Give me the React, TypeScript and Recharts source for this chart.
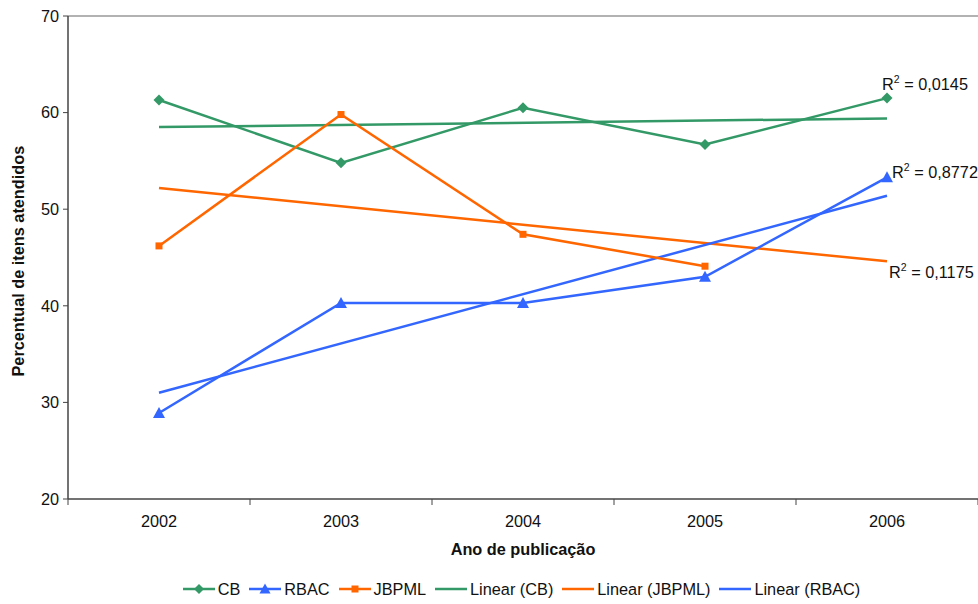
import React from "react";
import { LineChart, Line, XAxis, YAxis, Legend, LabelList, ReferenceLine } from "recharts";

const years = [2002, 2003, 2004, 2005, 2006];
const cb = [61.3, 54.8, 60.5, 56.7, 61.5];
const rbac = [28.9, 40.3, 40.3, 43.0, 53.3];
const jbpml = [46.2, 59.8, 47.4, 44.1, null];
// trendline ends (straight lines between first and last year)
const cbTrend = [58.5, null, null, null, 59.4];
const jbpmlTrend = [52.2, null, null, null, 44.6];
const rbacTrend = [31.0, null, null, null, 51.4];
const yTicks = [20, 30, 40, 50, 60, 70];
const r2Text = { cb: "0,0145", rbac: "0,8772", jbpml: "0,1175" };

const GREEN = "#339966";
const BLUE = "#3366FF";
const ORANGE = "#FF6600";
const FONT = "'Liberation Sans', Arial, sans-serif";
const FS = 16.3;
const BAND = 182;

const data = years.map((y, i) => ({
  year: String(y),
  cb: cb[i],
  rbac: rbac[i],
  jbpml: jbpml[i],
  cbTrend: cbTrend[i],
  jbpmlTrend: jbpmlTrend[i],
  rbacTrend: rbacTrend[i],
}));

const Diamond = (p: any) => {
  const { cx, cy } = p;
  if (cx == null || cy == null || p.value == null) return null;
  const r = 5.5;
  return <polygon key={p.index} points={`${cx},${cy - r} ${cx + r},${cy} ${cx},${cy + r} ${cx - r},${cy}`} fill={GREEN} />;
};
const Triangle = (p: any) => {
  const { cx, cy } = p;
  if (cx == null || cy == null || p.value == null) return null;
  return <polygon key={p.index} points={`${cx},${cy - 6} ${cx + 6},${cy + 5} ${cx - 6},${cy + 5}`} fill={BLUE} />;
};
const Square = (p: any) => {
  const { cx, cy } = p;
  if (cx == null || cy == null || p.value == null) return null;
  return <rect key={p.index} x={cx - 3.5} y={cy - 3.5} width={7} height={7} fill={ORANGE} />;
};

const r2Label = (text: string, dx: number, dy: number) => (props: any) => {
  const { x, y, index } = props;
  if (index !== years.length - 1) return null;
  return (
    <text x={x + dx} y={y + dy} fontSize={FS} fill="#111" fontFamily={FONT} dominantBaseline="middle">
      <tspan>R</tspan>
      <tspan fontSize={10.5} dy={-6}>2</tspan>
      <tspan dy={6}> = {text}</tspan>
    </text>
  );
};

const XTick = (props: any) => {
  const { x, payload, index } = props;
  const top = 499;
  return (
    <g>
      {index === 0 && <line x1={x - BAND / 2} y1={top} x2={x - BAND / 2} y2={top + 6} stroke="#444" />}
      <line x1={x + BAND / 2} y1={top} x2={x + BAND / 2} y2={top + 6} stroke="#444" />
      <text x={x} y={top + 24} textAnchor="middle" dominantBaseline="middle" fontSize={FS} fill="#111" fontFamily={FONT}>
        {payload.value}
      </text>
    </g>
  );
};

const legendItems = [
  { name: "CB", color: GREEN, marker: "diamond" },
  { name: "RBAC", color: BLUE, marker: "triangle" },
  { name: "JBPML", color: ORANGE, marker: "square" },
  { name: "Linear (CB)", color: GREEN, marker: "" },
  { name: "Linear (JBPML)", color: ORANGE, marker: "" },
  { name: "Linear (RBAC)", color: BLUE, marker: "" },
];

const LegendContent = () => (
  <div style={{ display: "flex", justifyContent: "center", alignItems: "center", height: 30, fontFamily: FONT, fontSize: FS, color: "#111", paddingLeft: 66 }}>
    {legendItems.map((it) => (
      <div key={it.name} style={{ display: "flex", alignItems: "center", marginRight: 9 }}>
        <svg width={32} height={12} style={{ marginRight: 3 }}>
          <line x1={0} y1={6} x2={32} y2={6} stroke={it.color} strokeWidth={2.5} />
          {it.marker === "diamond" && <polygon points="16,1 21,6 16,11 11,6" fill={it.color} />}
          {it.marker === "triangle" && <polygon points="16,0.5 21.5,10.5 10.5,10.5" fill={it.color} />}
          {it.marker === "square" && <rect x={12.5} y={2.5} width={7} height={7} fill={it.color} />}
        </svg>
        <span>{it.name}</span>
      </div>
    ))}
  </div>
);

export default function App() {
  return (
    <div style={{ position: "absolute", left: 0, top: 0, width: 978, height: 604, background: "#fff" }}>
      <LineChart width={978} height={604} data={data} margin={{ top: 16, right: 0, left: 8, bottom: 0 }} style={{ fontFamily: FONT }}>
        <ReferenceLine y={70} stroke="#999" strokeWidth={1.5} />
        <XAxis
          dataKey="year"
          height={75}
          padding={{ left: BAND / 2, right: BAND / 2 }}
          axisLine={{ stroke: "#444", strokeWidth: 1.5 }}
          tickLine={false}
          tick={<XTick />}
          interval={0}
          label={{ value: "Ano de publicação", position: "insideBottom", offset: 19, fontSize: FS, fontWeight: "bold", fill: "#111", fontFamily: FONT }}
        />
        <YAxis
          width={60}
          domain={[20, 70]}
          ticks={yTicks}
          interval={0}
          axisLine={{ stroke: "#444", strokeWidth: 1.5 }}
          tickLine={{ stroke: "#444" }}
          tickSize={5}
          tickMargin={4}
          tick={{ fontSize: FS, fill: "#111", fontFamily: FONT }}
          label={{ value: "Percentual de itens atendidos", angle: -90, position: "insideLeft", offset: 10, dy: 119, fontSize: FS, fontWeight: "bold", fill: "#111", fontFamily: FONT }}
        />
        <Legend height={30} verticalAlign="bottom" content={<LegendContent />} />
        <Line dataKey="cbTrend" stroke={GREEN} strokeWidth={2.5} dot={false} connectNulls isAnimationActive={false}>
          <LabelList dataKey="cbTrend" content={r2Label(r2Text.cb, -5, -32)} />
        </Line>
        <Line dataKey="jbpmlTrend" stroke={ORANGE} strokeWidth={2.5} dot={false} connectNulls isAnimationActive={false}>
          <LabelList dataKey="jbpmlTrend" content={r2Label(r2Text.jbpml, 2, 13)} />
        </Line>
        <Line dataKey="rbacTrend" stroke={BLUE} strokeWidth={2.5} dot={false} connectNulls isAnimationActive={false}>
          <LabelList dataKey="rbacTrend" content={r2Label(r2Text.rbac, 5, -22)} />
        </Line>
        <Line dataKey="cb" stroke={GREEN} strokeWidth={2.5} dot={<Diamond />} activeDot={false} isAnimationActive={false} />
        <Line dataKey="rbac" stroke={BLUE} strokeWidth={2.5} dot={<Triangle />} activeDot={false} isAnimationActive={false} />
        <Line dataKey="jbpml" stroke={ORANGE} strokeWidth={2.5} dot={<Square />} activeDot={false} isAnimationActive={false} />
      </LineChart>
    </div>
  );
}
